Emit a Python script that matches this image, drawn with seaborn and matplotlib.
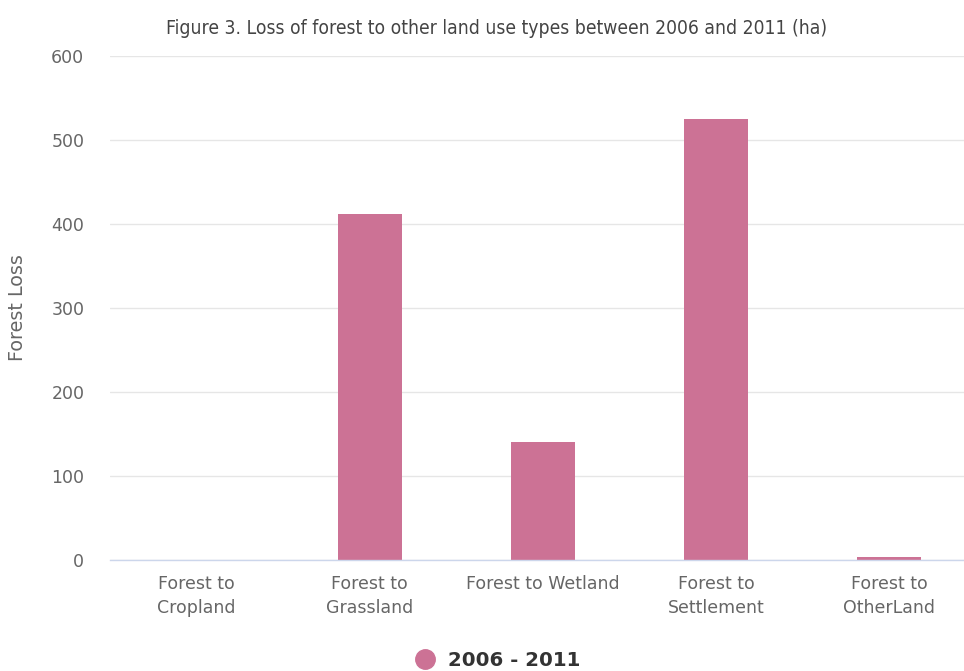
import matplotlib
matplotlib.use("Agg")
import matplotlib.pyplot as plt
import seaborn as sns
import pandas as pd
from matplotlib.lines import Line2D

categories = ["Forest to\nCropland", "Forest to\nGrassland", "Forest to Wetland",
              "Forest to\nSettlement", "Forest to\nOtherLand"]
values = [0, 412, 140, 525, 3]
series_name = "2006 - 2011"
yticks = [0, 100, 200, 300, 400, 500, 600]

sns.set_theme(style="white")
plt.rcParams['font.family'] = ['DejaVu Sans']
plt.rcParams['font.sans-serif'] = ['DejaVu Sans']

df = pd.DataFrame({"cat": categories, "val": values})

fig = plt.figure(figsize=(9.64, 6.71), dpi=100)
ax = fig.add_axes([110/964, 111/671, (976-110)/964, 504/671])
color = "#CC7295"
sns.barplot(data=df, x="cat", y="val", color=color, width=0.37, ax=ax,
            saturation=1, edgecolor="none")
ax.set_ylim(0, 600)
ax.set_xlim(-0.5, 4.5)
ax.set_yticks(yticks)
ax.yaxis.grid(True, color="#e6e6e6", linewidth=1)
ax.set_axisbelow(True)
for s in ["top", "right", "left"]:
    ax.spines[s].set_visible(False)
ax.spines["bottom"].set_color("#ccd6eb")
ax.spines["bottom"].set_linewidth(1)
ax.tick_params(axis="both", length=0, colors="#666666", labelsize=12.5)
ax.tick_params(axis="y", pad=18.5)
ax.tick_params(axis="x", pad=11)
for t in ax.get_xticklabels():
    t.set_linespacing(1.4)
ax.set_xlabel("")
ax.set_ylabel("Forest Loss", color="#666666", fontsize=13.8)
ax.yaxis.set_label_coords(-(110-27)/866, 0.5)

fig.text(497/964, 1 - 28/671, "Figure 3. Loss of forest to other land use types between 2006 and 2011 (ha)",
         ha="center", va="center", fontsize=13.9, color="#444444",
         family="DejaVu Sans", stretch="condensed")

handle = Line2D([], [], marker="o", linestyle="none", markersize=14,
                markerfacecolor=color, markeredgecolor=color)
fig.legend([handle], [series_name], loc="center", bbox_to_anchor=(493/964, 1 - 660/671),
           frameon=False, prop={"weight": "bold", "size": 14.2},
           labelcolor="#333333", handletextpad=0.15)

fig.savefig("out.png", dpi=100)
